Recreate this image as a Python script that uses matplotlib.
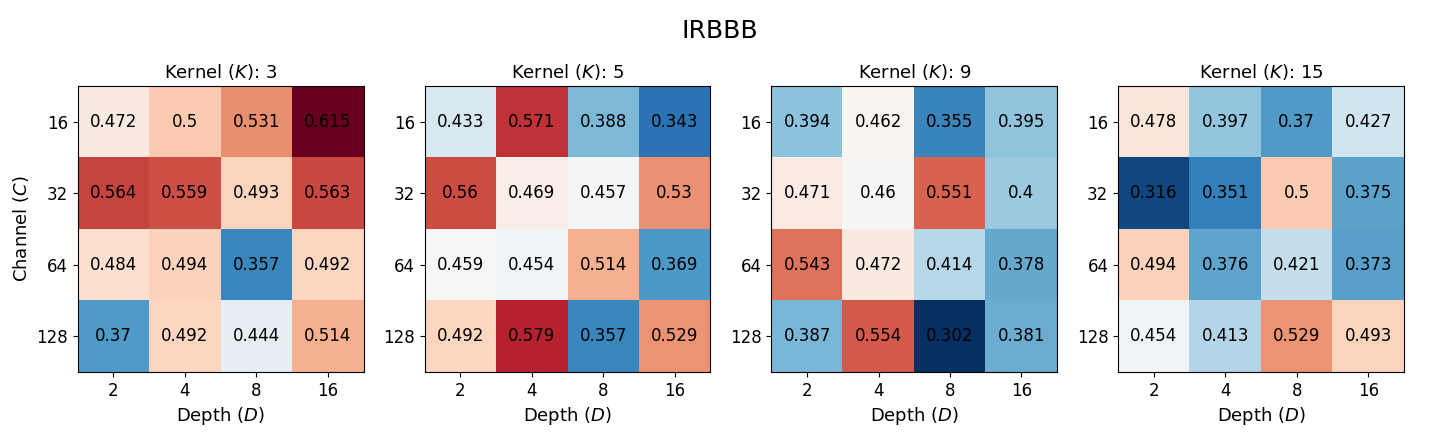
import numpy as np
import matplotlib
matplotlib.use("Agg")
import matplotlib.pyplot as plt

# Data
depths = ["2", "4", "8", "16"]
channels = ["16", "32", "64", "128"]
kernels = [3, 5, 9, 15]

k3 = [[0.472, 0.5, 0.531, 0.615],
      [0.564, 0.559, 0.493, 0.563],
      [0.484, 0.494, 0.357, 0.492],
      [0.37, 0.492, 0.444, 0.514]]
k5 = [[0.433, 0.571, 0.388, 0.343],
      [0.56, 0.469, 0.457, 0.53],
      [0.459, 0.454, 0.514, 0.369],
      [0.492, 0.579, 0.357, 0.529]]
k9 = [[0.394, 0.462, 0.355, 0.395],
      [0.471, 0.46, 0.551, 0.4],
      [0.543, 0.472, 0.414, 0.378],
      [0.387, 0.554, 0.302, 0.381]]
k15 = [[0.478, 0.397, 0.37, 0.427],
       [0.316, 0.351, 0.5, 0.375],
       [0.494, 0.376, 0.421, 0.373],
       [0.454, 0.413, 0.529, 0.493]]

grids = [np.array(g) for g in (k3, k5, k9, k15)]
vmin = min(g.min() for g in grids)
vmax = max(g.max() for g in grids)

fig, axes = plt.subplots(1, 4, figsize=(14.4, 4.32), dpi=100)
fig.subplots_adjust(left=0.054, right=0.975, bottom=0.139, top=0.801, wspace=0.213)

for i, (ax, k, g) in enumerate(zip(axes, kernels, grids)):
    ax.imshow(g, cmap="RdBu_r", vmin=vmin, vmax=vmax, aspect="auto")
    for r in range(g.shape[0]):
        for c in range(g.shape[1]):
            ax.text(c, r, f"{g[r, c]:g}", ha="center", va="center", fontsize=12)
    ax.set_xticks(range(len(depths)))
    ax.set_xticklabels(depths, fontsize=12)
    ax.set_yticks(range(len(channels)))
    ax.set_yticklabels(channels, fontsize=12)
    ax.set_xlabel("Depth ($D$)", fontsize=13)
    ax.set_title(f"Kernel ($K$): {k}", fontsize=13)
    if i == 0:
        ax.set_ylabel("Channel ($C$)", fontsize=13)

fig.suptitle("IRBBB", fontsize=18, y=0.955)
fig.savefig("out.png", dpi=100)
